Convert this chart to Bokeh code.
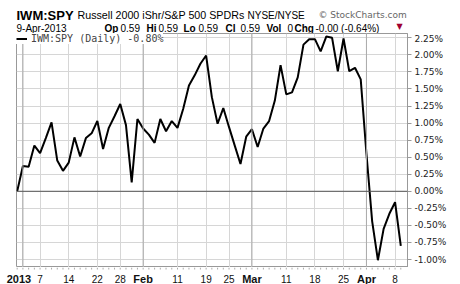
from bokeh.plotting import figure
from bokeh.layouts import column
from bokeh.models import FixedTicker, PrintfTickFormatter, Span, Range1d, ColumnDataSource
from bokeh.core.properties import value, field
from bokeh.embed import file_html
from bokeh.resources import INLINE

# Trading days (Dec 31 2012 base) and IWM:SPY relative performance (%)
dates = ["12/31",
         "1/2", "1/3", "1/4", "1/7", "1/8", "1/9", "1/10", "1/11", "1/14", "1/15", "1/16",
         "1/17", "1/18", "1/22", "1/23", "1/24", "1/25", "1/28", "1/29", "1/30", "1/31",
         "2/1", "2/4", "2/5", "2/6", "2/7", "2/8", "2/11", "2/12", "2/13", "2/14", "2/15",
         "2/19", "2/20", "2/21", "2/22", "2/25", "2/26", "2/27", "2/28",
         "3/1", "3/4", "3/5", "3/6", "3/7", "3/8", "3/11", "3/12", "3/13", "3/14", "3/15",
         "3/18", "3/19", "3/20", "3/21", "3/22", "3/25", "3/26", "3/27", "3/28",
         "4/1", "4/2", "4/3", "4/4", "4/5", "4/8", "4/9"]
values = [0.00,
          0.37, 0.36, 0.67, 0.56, 0.78, 1.01, 0.45, 0.30, 0.42, 0.79, 0.51,
          0.78, 0.85, 1.03, 0.62, 0.93, 1.10, 1.28, 0.97, 0.13, 1.06,
          0.92, 0.83, 0.71, 1.06, 0.88, 1.03, 0.93, 1.21, 1.55, 1.70, 1.87,
          1.99, 1.38, 0.99, 1.22, 0.94, 0.67, 0.40, 0.80,
          0.91, 0.65, 0.92, 1.03, 1.33, 1.85, 1.42, 1.45, 1.67, 2.15, 2.23,
          2.23, 2.05, 2.27, 2.25, 1.76, 2.24, 1.76, 1.81, 1.64,
          0.55, -0.44, -1.01, -0.55, -0.33, -0.16, -0.80]

tick_dates = ["1/2", "1/7", "1/14", "1/22", "1/28", "2/1", "2/11", "2/19", "2/25",
              "3/1", "3/11", "3/18", "3/25", "4/1", "4/8"]
tick_labels = ["2013", "7", "14", "22", "28", "Feb", "11", "19", "25",
               "Mar", "11", "18", "25", "Apr", "8"]
bold_labels = ["2013", "Feb", "Mar", "Apr"]
y_ticks = [-1.0, -0.75, -0.5, -0.25, 0.0, 0.25, 0.5, 0.75, 1.0, 1.25, 1.5, 1.75, 2.0, 2.25]

x = list(range(len(dates)))
tick_idx = [dates.index(d) for d in tick_dates]

FONT = "Liberation Sans"
W = 460
HEAD, FOOT = 33, 17
LEFT, RIGHT = 16, 53
X0, X1 = -0.12, 68.17
xr = Range1d(X0, X1)
ppu = (W - LEFT - RIGHT) / (X1 - X0)


def bare(fig):
    fig.xaxis.visible = False
    fig.yaxis.visible = False
    fig.xgrid.visible = False
    fig.ygrid.visible = False
    fig.outline_line_color = None
    fig.background_fill_color = "white"
    fig.border_fill_color = "white"


# ---------------- header (pixel coordinates) ----------------
hd = figure(width=W, height=HEAD, output_backend="svg", toolbar_location=None,
            x_range=Range1d(0, W), y_range=Range1d(HEAD, 0), min_border=0, frame_align=False)
bare(hd)


def htext(xs, ys, txt, size="10px", bold=False, color="black", font=FONT):
    hd.text(x=[xs], y=[ys], text=[txt], text_font=value(font), text_font_size=size,
            text_font_style="bold" if bold else "normal", text_color=color,
            text_baseline="alphabetic", text_align="left")


htext(16, 14.5, "IWM:SPY", size="13px", bold=True)
htext(77, 14.5, "Russell 2000 iShr/S&P 500 SPDRs", size="10.7px")
htext(247, 14.5, "NYSE/NYSE", size="10px")
htext(318, 14.5, "\u00a9 StockCharts.com", size="9px", color="#666666", font="DejaVu Sans")
htext(16, 27.5, "9-Apr-2013")
htext(104, 27.5, "Op", bold=True)
htext(120, 27.5, "0.59")
htext(146, 27.5, "Hi", bold=True)
htext(158, 27.5, "0.59")
htext(183, 27.5, "Lo", bold=True)
htext(198, 27.5, "0.59")
htext(225, 27.5, "Cl", bold=True)
htext(240, 27.5, "0.59")
htext(266, 27.5, "Vol", bold=True)
htext(287, 27.5, "0")
htext(294, 27.5, "Chg", bold=True)
htext(315, 27.5, "-0.00 (-0.64%)")
htext(396, 26, "\u25bc", size="8px", color="#a00030", font="DejaVu Sans")

# ---------------- main chart ----------------
p = figure(width=W, height=284 - HEAD - FOOT, output_backend="svg", toolbar_location=None,
           x_range=xr, y_range=Range1d(-1.117, 2.313),
           y_axis_location="right", frame_align=False,
           min_border_left=LEFT, min_border_right=RIGHT, min_border_top=0, min_border_bottom=0)
p.background_fill_color = "white"
p.border_fill_color = "white"
p.outline_line_color = "#999999"
p.xaxis.visible = False

p.xgrid.ticker = FixedTicker(ticks=tick_idx)
p.ygrid.ticker = FixedTicker(ticks=y_ticks)
p.xgrid.grid_line_color = "#d6d6d6"
p.ygrid.grid_line_color = "#d6d6d6"

for idx, lab in zip(tick_idx, tick_labels):
    if lab in bold_labels:
        p.add_layout(Span(location=idx, dimension="height", line_color="#aaaaaa", line_width=1))
p.add_layout(Span(location=0, dimension="width", line_color="#555555", line_width=1))

ya = p.yaxis[0]
ya.ticker = FixedTicker(ticks=y_ticks)
ya.formatter = PrintfTickFormatter(format="%.2f%%")
ya.axis_line_color = "#999999"
ya.major_tick_out = 4
ya.major_tick_in = 0
ya.major_tick_line_color = "#999999"
ya.minor_tick_line_color = None
ya.major_label_standoff = 3
ya.major_label_text_font = "DejaVu Sans"
ya.major_label_text_font_size = "9px"
ya.major_label_text_color = "#222222"

p.line(x, values, line_color="black", line_width=2, legend_label="IWM:SPY (Daily) -0.80%")

lg = p.legend[0]
lg.location = "top_left"
lg.margin = 0
lg.padding = 0
lg.spacing = 0
lg.glyph_width = 11
lg.glyph_height = 11
lg.label_standoff = 4
lg.label_text_font = "DejaVu Sans Mono"
lg.label_text_font_size = "10px"
lg.label_height = 11
lg.border_line_alpha = 0
lg.background_fill_color = "white"
lg.background_fill_alpha = 1

# ---------------- x-axis strip (same scale as main, full-width frame) ----------------
ft = figure(width=W, height=FOOT, output_backend="svg", toolbar_location=None,
            x_range=Range1d(X0 - LEFT / ppu, X1 + RIGHT / ppu), y_range=Range1d(FOOT, 0),
            min_border=0, frame_align=False)
bare(ft)
ft.segment(x0=x, y0=[0] * len(x), x1=x, y1=[2] * len(x), line_color="#aaaaaa", line_width=1)
src = ColumnDataSource(dict(
    x=tick_idx, y=[11] * len(tick_idx), text=tick_labels,
    style=["bold" if l in bold_labels else "normal" for l in tick_labels],
    size=["11px" if l in bold_labels else "10px" for l in tick_labels],
    dx=[-4 if l == "2013" else 0 for l in tick_labels]))
ft.text(x="x", y="y", text="text", source=src, text_font=value(FONT),
        text_font_size=field("size"), text_font_style=field("style"),
        x_offset=field("dx"),
        text_color="#111111", text_align="center", text_baseline="alphabetic")

layout = column(hd, p, ft, spacing=0)
open("out.html", "w").write(file_html(layout, INLINE))
